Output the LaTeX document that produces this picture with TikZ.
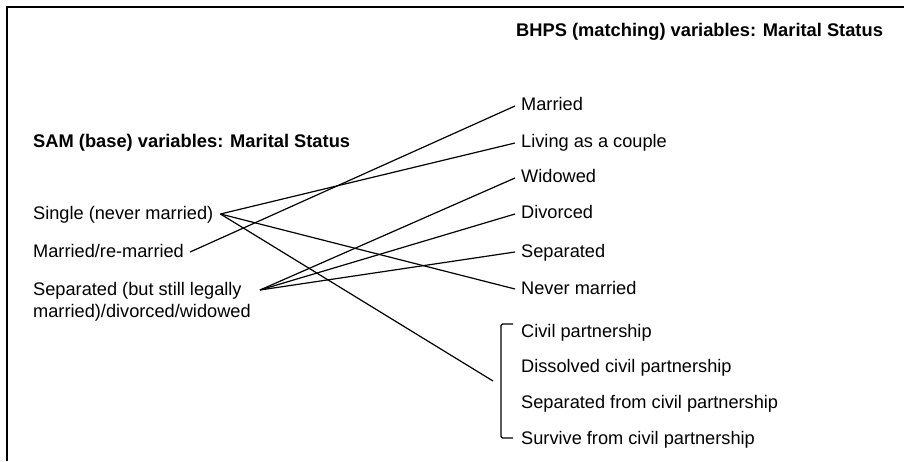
\documentclass[tikz,border=0pt]{standalone}
\usepackage{fontspec}
\setmainfont{Liberation Sans}
\begin{document}
\begin{tikzpicture}[x=1pt,y=1pt,
  lab/.style={anchor=base west,inner sep=0pt,font=\fontsize{18.2}{22}\selectfont},
  head/.style={lab,font=\fontsize{18.3}{22}\selectfont\bfseries},
  conn/.style={line width=1.2pt},
  frame/.style={line width=2pt}]
\useasboundingbox (0,0) rectangle (904,461);
\draw[frame] (7,0) -- (7,454) -- (904,454);
% headings
\node[head] (bhps) at (516,424) {BHPS (matching) variables: Marital Status};
\node[head] (sam) at (33,313) {SAM (base) variables: Marital Status};
% left items
\node[lab] (single) at (33,241) {Single (never married)};
\node[lab] (marr) at (33,204) {Married/re-married};
\node[lab] (sep) at (33,166) {\begin{tabular}[t]{@{}l@{}}Separated (but still legally\\married)/divorced/widowed\end{tabular}};
% right items
\node[lab] (rmarried) at (521,350) {Married};
\node[lab] (rliving) at (521,313) {Living as a couple};
\node[lab] (rwid) at (521,278) {Widowed};
\node[lab] (rdiv) at (521,242) {Divorced};
\node[lab] (rsep) at (521,204) {Separated};
\node[lab] (rnever) at (521,167) {Never married};
\node[lab] (civ1) at (521,124) {Civil partnership};
\node[lab] (civ2) at (521,89) {Dissolved civil partnership};
\node[lab] (civ3) at (521,53) {Separated from civil partnership};
\node[lab] (civ4) at (521,17) {Survive from civil partnership};
% bracket
\draw[conn,rounded corners=1.5pt] (513,137) -- (501,137) -- (501,23) -- (513,23);
\coordinate (brk) at (493,80);
% anchor points
\coordinate (sA) at ([xshift=7pt,yshift=6pt]single.base east);
\coordinate (mA) at ([xshift=6pt,yshift=5pt]marr.base east);
\coordinate (pA) at ([xshift=227pt,yshift=5pt]sep.base west);
\foreach \n in {rmarried,rliving,rwid,rdiv,rsep,rnever}
  \coordinate (\n-in) at ([xshift=-6pt,yshift=5pt]\n.base west);
% connectors
\draw[conn] (sA) -- (rliving-in);
\draw[conn] (sA) -- (rnever-in);
\draw[conn] (sA) -- (brk);
\draw[conn] (mA) -- (rmarried-in);
\draw[conn] (pA) -- (rwid-in);
\draw[conn] (pA) -- (rdiv-in);
\draw[conn] (pA) -- (rsep-in);
\end{tikzpicture}
\end{document}
